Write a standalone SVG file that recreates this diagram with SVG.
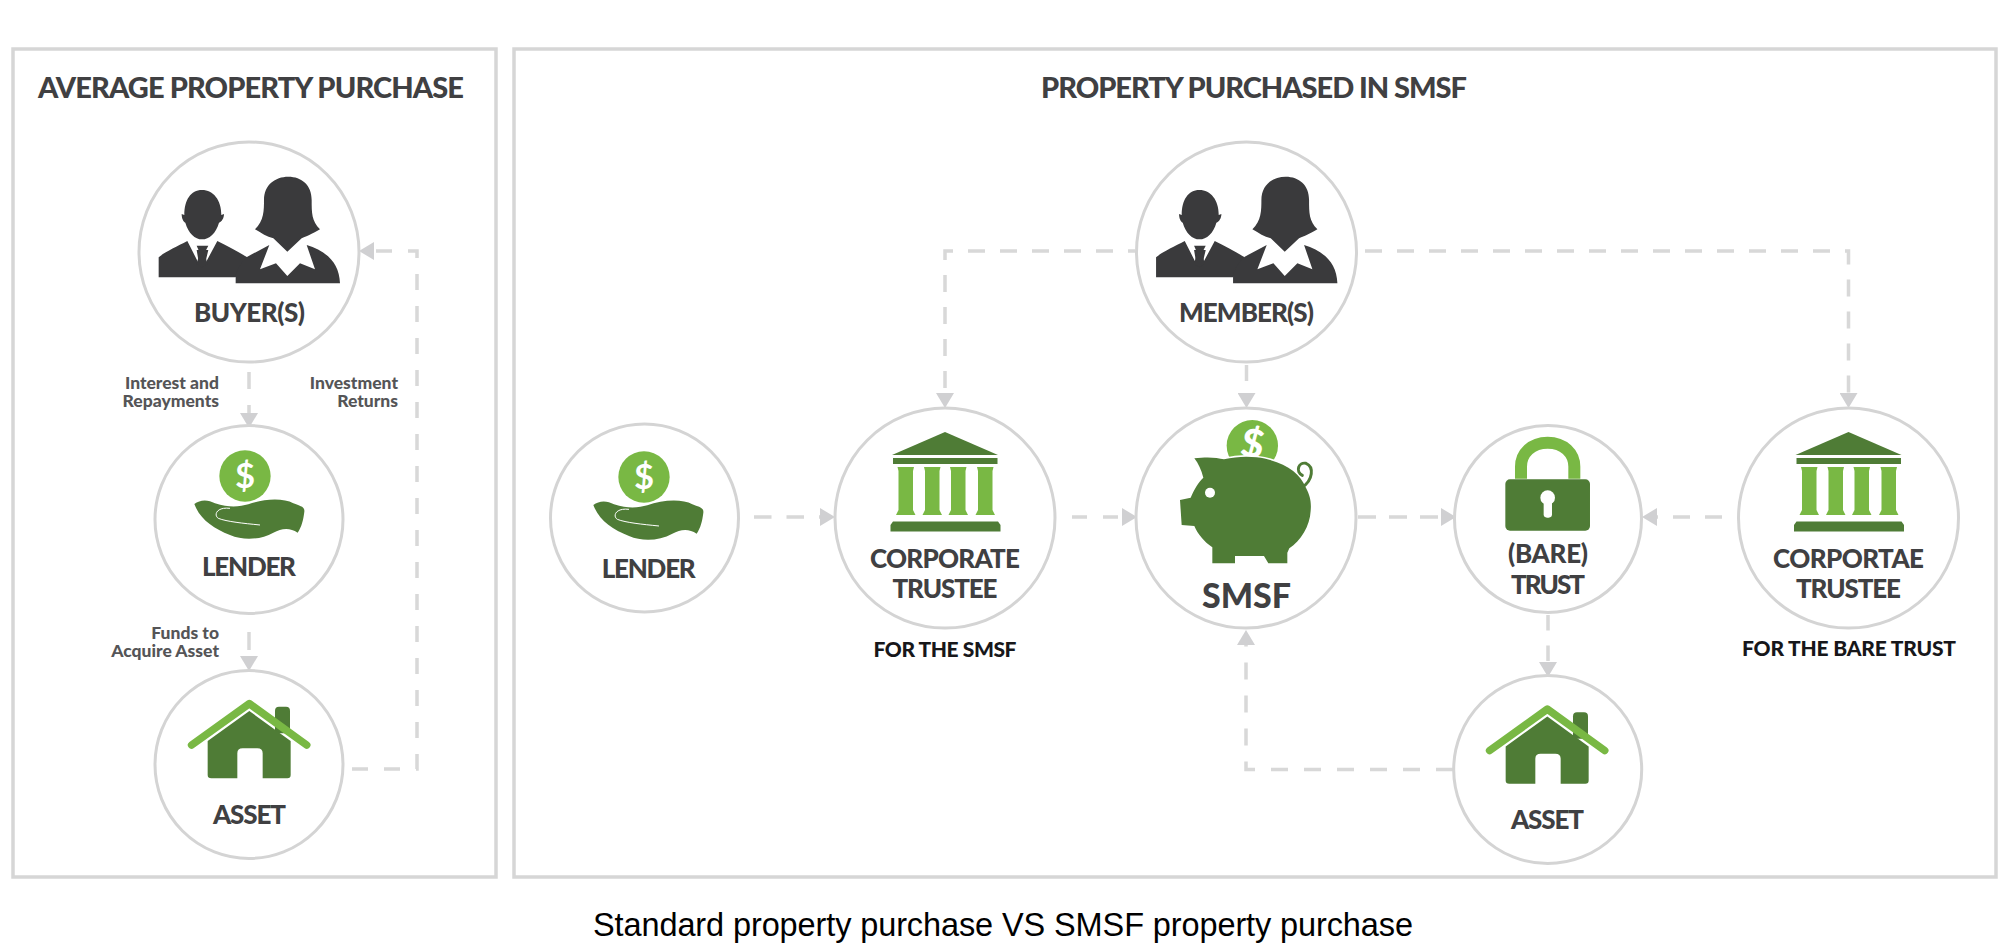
<svg xmlns="http://www.w3.org/2000/svg" width="2006" height="948" viewBox="0 0 2006 948">
<style>
.panel{fill:#fff;stroke:#d6d6d6;stroke-width:3.5}
.ring{fill:#fff;stroke:#d4d4d4;stroke-width:3}
.conn{fill:none;stroke:#d8d8d8;stroke-width:3.5}
.dk{fill:#4f7c36}
.lt{fill:#79b844}
.ink{fill:#3a3a3c}
text{font-family:Lato,"Liberation Sans",sans-serif;font-weight:900;text-anchor:middle;fill:#404042}
.head{font-size:29px}
.big{font-size:26px}
.small{font-size:17.500px;font-weight:900;text-anchor:end;fill:#555557}
.for{font-size:21px;font-weight:900;fill:#17171a}
.cap{font-family:"Liberation Sans",Arial,sans-serif;font-weight:400;font-size:32.500px;fill:#000;text-anchor:start}
</style>
<defs>
<marker id="arr" markerUnits="userSpaceOnUse" markerWidth="16" markerHeight="18" refX="0" refY="9" orient="auto">
<polygon points="0,0 15,9 0,18" fill="#d0d0d2"/>
</marker>
<g id="people" class="ink">
<path d="M553,555 L545,552 C545,565 550,575 556,578 C565,610 585,628 606,628 C628,628 648,610 657,578 C665,575 672,565 672,552 L664,555 C664,510 640,480 606,480 C572,480 553,510 553,555Z"/>
<path d="M476,742 V682 C495,665 530,650 562,633 L597,702 L590,660 L625,660 L615,702 L652,633 C685,650 715,665 742,682 L707,742Z"/>
<path d="M590,647 L625,647 L614,668 L622,702 L606,712 L590,702 L599,668Z"/>
<path d="M792,510 C792,465 825,440 865,440 C905,440 935,465 935,510 C935,550 935,572 960,598 C935,612 918,620 905,625 L862,665 L820,625 C800,620 785,610 765,598 C792,572 792,540 792,510Z"/>
<path d="M707,760 V735 C715,710 725,695 742,680 L808,645 L780,718 L828,700 L862,738 L900,700 L945,718 L920,645 C975,662 1018,695 1020,760Z"/>
</g>
<g id="hand">
<circle class="lt" cx="735" cy="108" r="77"/>
<text x="735" y="144" style="font-size:104px;font-weight:700;fill:#fff">$</text>
<path class="dk" d="M583,192 C600,178 625,178 645,190 C690,205 720,200 745,193 C790,176 850,173 880,190 C900,198 915,200 913,215 C910,240 905,260 893,278 C870,262 845,264 820,278 C780,300 730,302 690,285 C640,265 600,238 583,192Z"/>
<path d="M690,205 C650,200 640,225 655,235 C680,245 730,250 780,255" fill="none" stroke="#fff" stroke-width="3"/>
</g>
<g id="house">
<path class="dk" d="M825,880 V812 Q825,800 837,800 H858 Q870,800 870,812 V880Z"/>
<path class="dk" d="M748,813 L872,903 V1005 Q872,1015 862,1015 H788 V940 Q788,925 772,925 H728 Q712,925 712,940 V1015 H634 Q623,1015 623,1005 V903Z"/>
<path d="M575,915 L748,791 L920,915" fill="none" stroke="#79b844" stroke-width="23" stroke-linecap="round" stroke-linejoin="round"/>
</g>
<g id="bank">
<polygon class="dk" points="0,-86 53,-63 -53,-63"/>
<rect class="dk" x="-52" y="-60" width="104.500" height="6"/>
<g class="lt">
<path id="col" d="M-47.500,-51 H-31 L-32,-47 V-8 L-29.500,-3 H-49 L-46.500,-8 V-47Z"/>
<use href="#col" x="26.500"/><use href="#col" x="52.500"/><use href="#col" x="79.500"/>
</g>
<path class="dk" d="M-52,3.500 H53 L55.500,7 V13.500 H-54.500 V7Z"/>
</g>
</defs>
<rect width="2006" height="948" fill="#fff"/>
<rect id="panel-left" class="panel" x="13" y="49" width="483" height="828"/>
<rect id="panel-right" class="panel" x="514" y="49" width="1482" height="828"/>
<text id="title-left" class="head" x="251" y="97.500" textLength="426">AVERAGE PROPERTY PURCHASE</text>
<text id="title-right" class="head" x="1254" y="97.500" textLength="426">PROPERTY PURCHASED IN SMSF</text>
<g id="connectors">
<path class="conn" stroke-dasharray="17 16" d="M249,372 V413" marker-end="url(#arr)"/>
<path class="conn" stroke-dasharray="18 99" d="M249,632 V656" marker-end="url(#arr)"/>
<path class="conn" stroke-dasharray="16 16" d="M352,769 H417 V251 H374" marker-end="url(#arr)"/>
<path class="conn" stroke-dasharray="17 15" stroke-dashoffset="10" d="M1135,251 H945 V393" marker-end="url(#arr)"/>
<path class="conn" stroke-dasharray="17 15" d="M1365,251 H1848.500 V393" marker-end="url(#arr)"/>
<path class="conn" stroke-dasharray="16 99" d="M1246.500,365 V393" marker-end="url(#arr)"/>
<path class="conn" stroke-dasharray="17.500 15" d="M754,517 H820" marker-end="url(#arr)"/>
<path class="conn" stroke-dasharray="15 16" d="M1072,517 H1122" marker-end="url(#arr)"/>
<path class="conn" stroke-dasharray="18 13" d="M1358,517 H1441" marker-end="url(#arr)"/>
<path class="conn" stroke-dasharray="17 15" d="M1722,517 H1657" marker-end="url(#arr)"/>
<path class="conn" stroke-dasharray="15.500 15" d="M1548,615 V662" marker-end="url(#arr)"/>
<path class="conn" stroke-dasharray="17 16" d="M1453,769.500 H1246 V645" marker-end="url(#arr)"/>
</g>
<g id="node-buyers">
<circle class="ring" cx="249" cy="252" r="110"/>
<use href="#people" transform="translate(0,30) scale(.33333)"/>
<text class="big" x="249.500" y="322" textLength="111">BUYER(S)</text>
</g>
<g id="label-interest"><text class="small" x="219" y="389">Interest and</text><text class="small" x="219" y="406.500">Repayments</text></g>
<g id="label-returns"><text class="small" x="398" y="389">Investment</text><text class="small" x="398" y="406.500">Returns</text></g>
<g id="label-funds"><text class="small" x="219" y="639">Funds to</text><text class="small" x="219" y="656.500">Acquire Asset</text></g>
<g id="node-lender-left">
<circle class="ring" cx="249" cy="519.500" r="94"/>
<use href="#hand" transform="translate(0,440) scale(.33333)"/>
<text class="big" x="249" y="576" textLength="94">LENDER</text>
</g>
<g id="node-asset-left">
<circle class="ring" cx="249" cy="764.500" r="94"/>
<use href="#house" transform="translate(0,440) scale(.33333)"/>
<text class="big" x="249.500" y="824" textLength="73">ASSET</text>
</g>
<g id="node-members">
<circle class="ring" cx="1246.500" cy="252" r="110"/>
<use href="#people" transform="translate(997.400,30) scale(.33333)"/>
<text class="big" x="1246.500" y="322" textLength="135">MEMBER(S)</text>
</g>
<g id="node-lender-right">
<circle class="ring" cx="644.500" cy="518" r="94"/>
<use href="#hand" transform="translate(399,441) scale(.33333)"/>
<text class="big" x="648.700" y="577.500" textLength="94">LENDER</text>
</g>
<g id="node-corporate-trustee">
<circle class="ring" cx="945" cy="518" r="110"/>
<use href="#bank" transform="translate(945,518)"/>
<text class="big" x="945" y="568" textLength="150">CORPORATE</text>
<text class="big" x="945" y="598" textLength="105">TRUSTEE</text>
</g>
<text id="for-smsf" class="for" x="945" y="657" textLength="143">FOR THE SMSF</text>
<g id="node-smsf">
<circle class="ring" cx="1246" cy="518" r="110"/>
<g transform="translate(1100,400) scale(.33333)">
<circle class="lt" cx="457" cy="137" r="77"/>
<text x="457" y="172" transform="rotate(10 457 137)" style="font-size:118px;font-weight:900;fill:#fff">$</text>
<path class="dk" stroke="#fff" stroke-width="10" paint-order="stroke" d="M283,175 C320,170 350,172 372,178 C405,170 440,168 470,172 C550,182 600,218 617,262 C632,290 634,310 632,332 C630,378 602,422 568,445 L562,458 V490 H505 L492,468 H405 V490 H337 V442 C312,425 292,400 283,378 L245,375 L240,300 L272,293 C282,268 296,246 310,233 C304,210 295,190 283,175Z"/>
<path d="M606,262 C640,240 642,200 618,190 C596,185 585,215 607,226" fill="none" stroke="#4f7c36" stroke-width="9" stroke-linecap="round"/>
<circle cx="330" cy="278" r="15" fill="#fff"/>
</g>
<text x="1246.500" y="608" textLength="89" style="font-size:34px">SMSF</text>
</g>
<g id="node-trust">
<circle class="ring" cx="1548" cy="519" r="93.500"/>
<g transform="translate(1100,400) scale(.33333)">
<path d="M1263,236 V200 C1263,160 1295,128 1343,128 C1391,128 1423,160 1423,200 V236" fill="none" stroke="#79b844" stroke-width="36"/>
<rect class="dk" x="1216" y="238" width="254" height="154" rx="14"/>
<circle cx="1343" cy="293" r="22" fill="#fff"/>
<rect x="1331" y="295" width="25" height="58" rx="10" fill="#fff"/>
</g>
<text class="big" x="1548" y="563" textLength="80">(BARE)</text>
<text class="big" x="1548" y="594" textLength="74">TRUST</text>
</g>
<g id="node-corportae-trustee">
<circle class="ring" cx="1848.500" cy="518" r="110"/>
<use href="#bank" transform="translate(1848.500,518)"/>
<text class="big" x="1848.500" y="568" textLength="151">CORPORTAE</text>
<text class="big" x="1848.500" y="598" textLength="105">TRUSTEE</text>
</g>
<text id="for-bare" class="for" x="1849" y="656" textLength="214">FOR THE BARE TRUST</text>
<g id="node-asset-right">
<circle class="ring" cx="1547.700" cy="769.500" r="94"/>
<use href="#house" transform="translate(1298,445.500) scale(.33333)"/>
<text class="big" x="1547.400" y="829.300" textLength="73">ASSET</text>
</g>
<text id="caption" class="cap" x="593" y="936" textLength="820">Standard property purchase VS SMSF property purchase</text>
</svg>
